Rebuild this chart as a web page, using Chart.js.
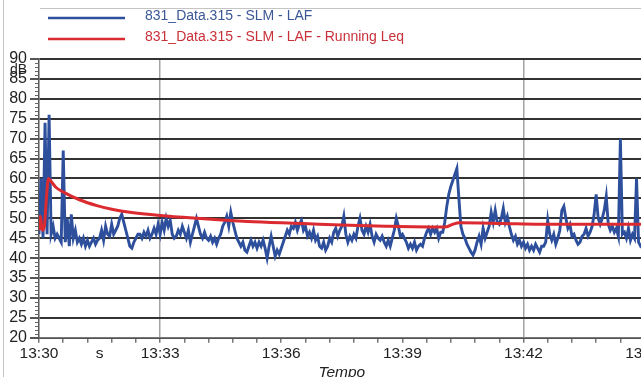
<!DOCTYPE html>
<html>
<head>
<meta charset="utf-8">
<script src="https://cdn.jsdelivr.net/npm/chart.js@4.4.1/dist/chart.umd.min.js"></script>
<style>
  html, body { margin: 0; padding: 0; background: #fff; overflow: hidden; }
  #wrap { position: absolute; left: 0; top: 0; width: 666px; height: 382px; }
</style>
</head>
<body>
<div id="wrap"><canvas id="slmChart"></canvas></div>
<script>
// --- DATA ---
// LAF trace, one reading every 3 seconds from 13:30:00
const lafStep = 3;
const lafValues = [
  46, 60, 45, 74, 46, 76, 46, 48, 45, 46,
  45, 44, 67, 44, 50, 43, 51, 45, 47, 44,
  45, 43.5, 45, 43, 44.5, 43, 44, 45, 43.5, 44.5,
  45, 47, 44.5, 48, 46, 45.5, 48.5, 46, 47, 48,
  50, 51, 49, 47, 45, 43, 42.5, 44, 45, 46,
  46, 45, 46.5, 45.5, 47, 45, 46, 47.5, 46, 48.5,
  46, 49, 47, 50, 48, 49.5, 46, 45, 45.5, 47,
  46, 48, 46.5, 45, 47, 44, 46, 48, 50, 48,
  46, 45, 46.5, 45, 44.5, 45.5, 44, 45, 43.5, 45,
  46, 48, 49, 50.5, 48, 51.5, 49, 47, 45, 44,
  43, 44, 42, 41.5, 43, 44.5, 43, 44, 42.5, 44,
  43, 44.5, 42.5, 40, 43, 45.5, 43, 40.5, 42, 41,
  42.5, 44, 45.5, 47, 46, 48, 47.5, 49, 47, 48.5,
  49.5, 47, 48, 45.5, 46.5, 45, 47, 44.5, 45.5, 43,
  42.5, 44, 42, 43, 45, 44, 46.5, 47.5, 45.5, 47,
  48, 50.5, 46, 44, 45.5, 44.5, 46, 45, 48, 50,
  47, 46, 48, 46.5, 48.5, 45.5, 44, 46, 45, 44.5,
  45.5, 44, 43, 44.5, 43, 45, 47, 50, 48, 45.5,
  46, 45, 44, 42.5, 43.5, 42.5, 44, 42, 43, 43.5,
  43, 45, 46.5, 47.5, 46, 47.5, 46.5, 47.5, 45, 46.5,
  46.5, 49, 53, 56, 58, 59.5, 61, 62.5, 55, 48,
  46, 45, 43.5, 42.5, 41.5, 40.8, 42, 44, 45.5, 43.5,
  47.5, 45, 46.5, 48, 51.5, 49, 52, 49, 48.5, 50,
  52.5, 49, 50.5, 48, 46, 44.5, 45.5, 43.5, 44.5, 43,
  44, 42.5, 43.5, 42, 43, 42, 43.5, 42.5, 41.5, 43,
  43, 44, 49.5, 46, 44.5, 46, 43.5, 45, 47, 52,
  53, 50, 47.5, 48.5, 45.5, 46, 44.5, 43.5, 44, 45.5,
  46, 47.5, 45.5, 46.5, 48, 51, 56, 50, 48.5, 50,
  52, 55.5, 48.5, 47, 48, 46.5, 47.5, 45.5, 70, 46,
  46.5, 45, 47.5, 44.5, 46, 45, 60, 44, 43, 43.5,
  44
];

// Running Leq, read at these seconds after 13:30:00
const leqTimes = [0, 2, 5, 8, 11, 14, 17, 25, 37, 61, 86, 110, 135, 180, 235, 310, 392, 449, 515, 597, 606, 615, 625, 690, 745, 900];
const leqValues = [47, 50.5, 47, 48, 55, 60, 59.5, 57.8, 56.5, 54.6, 53.2, 52.2, 51.5, 50.7, 50, 49.2, 48.7, 48.3, 48, 47.8, 47.9, 48.5, 48.9, 48.7, 48.5, 48.5];

// x axis labels (seconds after 13:30:00)
const tickSeconds = [0, 90, 180, 360, 540, 720, 900];
const tickLabels = ['13:30', 's', '13:33', '13:36', '13:39', '13:42', '13:45'];
const xGridSeconds = [180, 720];

const seriesNames = ['831_Data.315 - SLM - LAF', '831_Data.315 - SLM - LAF - Running Leq'];

const BLUE = '#2d4f9c';
const RED = '#db2a30';

// draws the legend rows, the "dB" unit, the small y ticks and the frame lines
const decorPlugin = {
  id: 'decor',
  beforeDraw(chart) {
    const c = chart.ctx;
    c.save();
    c.strokeStyle = '#c4c4c4';
    c.lineWidth = 1;
    c.beginPath();
    c.moveTo(3.5, 0); c.lineTo(3.5, 382);
    c.moveTo(40, 8.5); c.lineTo(666, 8.5);
    c.stroke();
    c.restore();
  },
  afterDraw(chart) {
    const c = chart.ctx;
    const y = chart.scales.y;
    c.save();
    // minor ticks on the y axis
    c.strokeStyle = '#666';
    c.lineWidth = 1;
    c.beginPath();
    for (let v = y.min; v <= y.max; v += 1) {
      if (v % 5 === 0) continue;
      const py = Math.round(y.getPixelForValue(v)) + 0.5;
      c.moveTo(y.right - 4, py);
      c.lineTo(y.right, py);
    }
    c.stroke();
    // unit
    c.font = '14px "Liberation Sans", Arial, sans-serif';
    c.fillStyle = '#222';
    c.textAlign = 'left';
    c.textBaseline = 'middle';
    c.fillText('dB', 10, 70);
    // legend
    const rows = [18, 39];
    const textColors = ['#3b5896', '#c9313a'];
    chart.data.datasets.forEach((ds, i) => {
      c.strokeStyle = ds.borderColor;
      c.lineWidth = 2.5;
      c.beginPath();
      c.moveTo(48, rows[i]);
      c.lineTo(125, rows[i]);
      c.stroke();
      c.fillStyle = textColors[i];
      c.fillText(ds.label, 145, rows[i] - 2);
    });
    c.restore();
  }
};

const ctx = document.getElementById('slmChart').getContext('2d');
new Chart(ctx, {
  type: 'line',
  data: {
    datasets: [
      {
        label: seriesNames[0],
        data: lafValues.map((v, i) => ({ x: i * lafStep, y: v })),
        borderColor: BLUE,
        borderWidth: 2.9,
        pointRadius: 0,
        tension: 0,
        order: 1
      },
      {
        label: seriesNames[1],
        data: leqTimes.map((t, i) => ({ x: t, y: leqValues[i] })),
        borderColor: RED,
        borderWidth: 3,
        pointRadius: 0,
        cubicInterpolationMode: 'monotone',
        order: 0
      }
    ]
  },
  options: {
    responsive: true,
    maintainAspectRatio: false,
    animation: false,
    layout: { padding: { top: 59, left: 6, right: 20, bottom: 0 } },
    plugins: {
      legend: { display: false },
      tooltip: { enabled: false }
    },
    scales: {
      x: {
        type: 'linear',
        min: 0,
        max: 900,
        border: { color: '#777', width: 1.5 },
        grid: {
          color: (c) => (c.tick && xGridSeconds.includes(c.tick.value)) ? '#a3a3a3' : 'rgba(0,0,0,0)',
          tickColor: (c) => (c.tick && c.tick.value % 36 === 0) ? '#777' : 'rgba(0,0,0,0)',
          lineWidth: 1.5,
          tickLength: 5
        },
        ticks: {
          stepSize: 18,
          maxTicksLimit: 80,
          autoSkip: false,
          maxRotation: 0,
          padding: 2,
          color: '#222',
          font: { family: '"Liberation Sans", Arial, sans-serif', size: 15.5 },
          callback: (v) => {
            const k = tickSeconds.indexOf(v);
            return k >= 0 ? tickLabels[k] : '';
          }
        },
        title: {
          display: true,
          text: 'Tempo',
          color: '#222',
          padding: { top: -2, bottom: 0 },
          font: { family: '"Liberation Sans", Arial, sans-serif', size: 15.5, style: 'italic' }
        }
      },
      y: {
        min: 20,
        max: 90,
        afterFit: (s) => { s.width = 33; },
        border: { color: '#555', width: 1.5 },
        grid: { color: '#333', lineWidth: 2, tickColor: '#555', tickLength: 9 },
        ticks: {
          stepSize: 5,
          maxTicksLimit: 30,
          autoSkip: false,
          padding: 3,
          color: '#222',
          font: { family: '"Liberation Sans", Arial, sans-serif', size: 16 }
        }
      }
    }
  },
  plugins: [decorPlugin]
});
</script>
</body>
</html>
